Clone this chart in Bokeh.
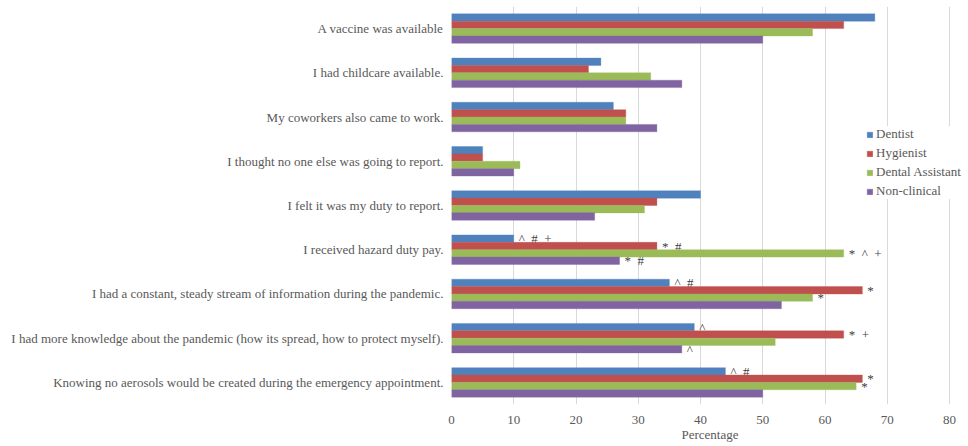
from bokeh.plotting import figure
from bokeh.models import FactorRange, Range1d, ColumnDataSource, Legend, LegendItem, FixedTicker
from bokeh.transform import dodge
from bokeh.core.properties import value
from bokeh.embed import file_html
from bokeh.resources import INLINE

categories = [
    "A vaccine was available",
    "I had childcare available.",
    "My coworkers also came to work.",
    "I thought no one else was going to report.",
    "I felt it was my duty to report.",
    "I received hazard duty pay.",
    "I had a constant, steady stream of information during the pandemic.",
    "I had more knowledge about the pandemic (how its spread, how to protect myself).",
    "Knowing no aerosols would be created during the emergency appointment.",
]
series_names = ["Dentist", "Hygienist", "Dental Assistant", "Non-clinical"]
dentist = [68, 24, 26, 5, 40, 10, 35, 39, 44]
hygienist = [63, 22, 28, 5, 33, 33, 66, 63, 66]
dental_assistant = [58, 32, 28, 11, 31, 63, 58, 52, 65]
non_clinical = [50, 37, 33, 10, 23, 27, 53, 37, 50]
dentist_sig = ["", "", "", "", "", "^ # +", "^ #", "^", "^ #"]
hygienist_sig = ["", "", "", "", "", "* #", "*", "* +", "*"]
dental_assistant_sig = ["", "", "", "", "", "* ^ +", "*", "", "*"]
non_clinical_sig = ["", "", "", "", "", "* #", "", "^", ""]
x_ticks = [0, 10, 20, 30, 40, 50, 60, 70, 80]

colors = ["#4F81BD", "#C0504D", "#9BBB59", "#8064A2"]
series_vals = [dentist, hygienist, dental_assistant, non_clinical]
series_sig = [dentist_sig, hygienist_sig, dental_assistant_sig, non_clinical_sig]
offsets = [0.25, 0.0833, -0.0833, -0.25]

FONT = "Liberation Serif"
TXT = "#595959"
NB = "\u00a0\u00a0"

# frame spans x = 451 .. 968 px; value 80 sits at 949 px
px_per_unit = (949 - 451) / 80.0
x_end = 80 + (968 - 949) / px_per_unit

p = figure(width=968, height=446,
           y_range=FactorRange(factors=categories[::-1], range_padding=0),
           x_range=Range1d(0, x_end),
           output_backend="svg", toolbar_location=None,
           min_border_left=451, min_border_right=0,
           min_border_top=6, min_border_bottom=42)
p.outline_line_color = None
p.background_fill_color = "white"
p.border_fill_color = "white"

renderers = []
for name, vals, sig, col, off in zip(series_names, series_vals, series_sig, colors, offsets):
    shown = [s.replace(" ", NB) for s in sig]
    src = ColumnDataSource(dict(cat=categories, val=vals, sig=shown))
    r = p.hbar(y=dodge("cat", off, range=p.y_range), right="val", left=0,
               height=0.167, source=src, fill_color=col, line_color=col,
               line_alpha=0.35, line_width=1)
    renderers.append(r)
    p.text(x="val", y=dodge("cat", off, range=p.y_range), text="sig", source=src,
           x_offset=5, text_baseline="middle", text_align="left",
           text_font=value(FONT), text_font_size="13px", text_color="#404040")

p.ygrid.grid_line_color = None
p.xgrid.grid_line_color = "#D9D9D9"
p.xgrid.ticker = FixedTicker(ticks=x_ticks)

p.xaxis.ticker = FixedTicker(ticks=x_ticks)
p.xaxis.axis_line_color = None
p.xaxis.major_tick_line_color = None
p.xaxis.minor_tick_line_color = None
p.xaxis.major_label_text_font = FONT
p.xaxis.major_label_text_font_size = "13px"
p.xaxis.major_label_text_color = TXT
p.xaxis.major_label_standoff = 5
p.xaxis.axis_label = "Percentage"
p.xaxis.axis_label_text_font = FONT
p.xaxis.axis_label_text_font_size = "13px"
p.xaxis.axis_label_text_font_style = "normal"
p.xaxis.axis_label_text_color = TXT
p.xaxis.axis_label_standoff = 0

p.yaxis.axis_line_color = None
p.yaxis.major_tick_line_color = None
p.yaxis.minor_tick_line_color = None
p.yaxis.major_label_text_font = FONT
p.yaxis.major_label_text_font_size = "13px"
p.yaxis.major_label_text_color = TXT
p.yaxis.major_label_standoff = 2

legend = Legend(items=[LegendItem(label=n, renderers=[r]) for n, r in zip(series_names, renderers)],
                location=(415, 205))
legend.background_fill_color = "white"
legend.background_fill_alpha = 1
legend.border_line_color = None
legend.padding = 2
legend.margin = 0
legend.spacing = 3
legend.glyph_width = 7
legend.glyph_height = 7
legend.label_standoff = 3
legend.label_text_font = FONT
legend.label_text_font_size = "13px"
legend.label_text_color = TXT
legend.label_height = 14
p.add_layout(legend)

open("out.html", "w").write(file_html(p, INLINE))
